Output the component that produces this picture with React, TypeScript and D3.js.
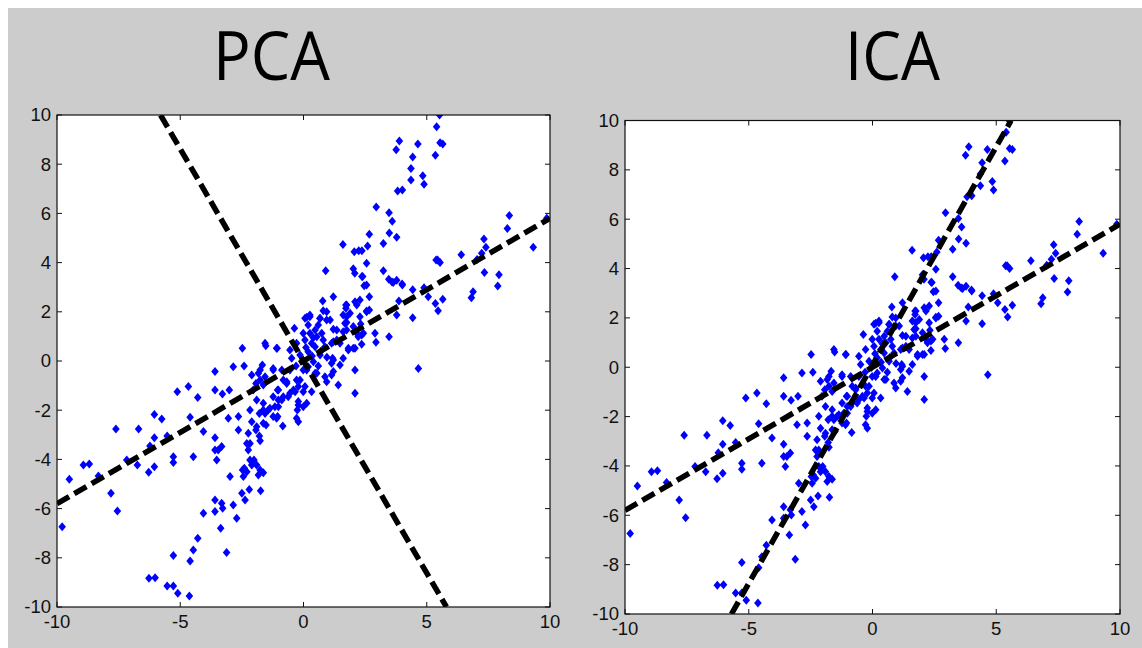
import React, { useEffect, useRef } from 'react';
import * as d3 from 'd3';

// scatter samples (same cloud in both panels)
const samples: [number, number][] = [
  // upper arm and right branch
  [5.52, 10.0], [5.40, 9.52], [3.89, 8.94], [3.76, 8.59], [4.64, 8.82], [5.54, 8.87], [5.65, 8.82],
  [5.35, 8.36], [4.43, 8.29], [4.36, 7.83], [4.36, 7.36], [4.84, 7.53], [4.89, 7.18], [3.82, 6.91],
  [4.01, 6.95], [2.95, 6.26], [3.47, 6.03], [3.60, 5.68], [3.48, 5.20], [3.78, 5.03], [2.67, 5.15],
  [3.24, 4.78], [1.60, 4.74], [2.60, 4.67], [2.06, 4.44], [2.24, 4.48], [2.37, 4.48], [2.56, 3.97],
  [0.90, 3.67], [2.02, 3.75], [2.08, 3.57], [2.37, 3.44], [3.24, 3.67], [3.46, 3.32], [3.59, 3.21],
  [3.78, 3.28], [2.56, 3.09], [4.01, 3.09], [2.67, 2.61], [1.21, 2.61], [0.78, 2.44], [2.29, 2.48],
  [1.72, 2.28], [1.72, 2.14], [3.87, 2.44], [4.43, 2.90], [4.89, 2.98], [5.06, 2.61], [5.35, 2.34],
  [5.65, 2.51], [5.46, 2.04], [5.44, 4.11], [5.54, 4.00], [5.38, 4.11], [6.40, 4.32], [7.04, 4.13],
  [7.23, 4.38], [7.32, 4.96], [7.40, 4.62], [8.35, 5.91], [8.27, 5.39], [9.87, 5.80], [9.32, 4.62],
  [7.34, 3.60], [7.93, 3.51], [7.88, 3.05], [6.88, 2.82], [6.81, 2.57], [0.80, 2.04], [1.61, 1.87],
  [1.75, 1.80], [2.67, 2.07], [2.56, 2.03], [2.29, 1.80], [2.32, 1.50], [1.75, 1.56], [1.75, 1.26],
  [3.78, 1.87], [4.43, 1.76], [1.21, 1.29], [2.36, 1.06], [2.22, 0.99], [2.94, 0.76], [3.47, 0.99],
  [1.82, 0.52], [2.02, 0.52], [2.36, 0.68], [1.21, 0.78], [1.35, 0.85], [1.18, 0.11], [0.26, 1.87],
  [0.06, 1.74], [0.67, 1.74], [0.94, 1.67], [2.40, 3.43], [3.64, 3.19], [4.00, 3.13], [2.46, 3.06],
  [2.09, 2.41], [2.16, 1.13], [2.90, 1.13], [1.61, 1.19], [2.02, 1.40], [4.66, -0.30],
  // dense centre
  [0.26, 1.80], [0.67, 1.73], [0.94, 2.00], [0.19, 1.46], [0.47, 1.26], [0.74, 1.13], [1.08, 1.67],
  [1.35, 1.26], [1.68, 1.53], [1.89, 1.94], [1.75, 2.28], [2.16, 2.28], [2.56, 2.00], [2.43, 1.13],
  [2.09, 0.52], [1.82, 0.45], [2.09, -0.37], [2.09, -1.31], [1.48, 0.72], [1.61, 0.11], [1.14, 0.72],
  [0.87, 0.58], [0.67, 0.24], [0.40, -0.03], [0.19, -0.23], [0.54, -0.50], [0.87, -0.64], [1.21, -0.43],
  [1.48, -0.16], [-0.01, -0.37], [-0.14, -0.77], [-0.41, -1.18], [-0.62, -1.45], [-0.88, -1.59],
  [-0.68, -0.84], [-1.02, -1.18], [-1.23, -1.45], [-1.16, -1.86], [-1.43, -1.99], [-1.63, -1.72],
  [-1.90, -1.59], [-1.76, -0.37], [-1.56, -0.64], [-1.23, -0.37], [-1.56, 0.72], [-1.09, 0.52],
  [-0.55, 0.45], [-0.28, 0.72], [0.06, 0.85], [0.19, 0.38], [0.47, 0.58], [-0.14, 0.24], [-0.48, 0.11],
  [-0.21, -1.79], [-0.01, -1.86], [-0.28, -2.33], [-1.23, -2.26], [-2.04, -1.18], [0.94, -0.84],
  [1.41, -0.98], [0.06, -1.04], [0.33, -1.25], [0.26, 1.13], [0.54, 0.99], [-0.01, 1.13], [0.80, 0.85],
  [0.33, 0.72], [0.60, 1.46], [-2.48, 0.52], [-1.53, 0.62], [-1.07, 0.52], [-0.37, 1.33], [0.13, 1.78],
  [1.14, -0.57], [1.14, -0.09], [1.21, 0.04], [0.47, -0.50], [0.13, -0.37], [-0.01, -1.25],
  [0.35, 0.20], [0.70, 0.40], [0.95, 0.15], [0.40, 0.95], [0.10, 0.55], [-0.30, -0.20], [0.60, -0.20],
  // lower-left arm and left branch
  [-3.59, -0.43], [-2.85, -0.23], [-2.41, -0.20], [-1.67, -0.16], [-1.23, -0.30], [-0.88, -0.37],
  [-2.10, -0.57], [-1.83, -0.50], [-1.76, -0.77], [-1.93, -0.91], [-1.63, -0.98], [-0.55, -0.37],
  [-0.28, -0.77], [-0.21, -1.04], [-0.34, -1.25], [-0.21, -1.65], [-0.25, -1.99], [0.13, -1.72],
  [-0.82, -0.77], [-0.68, -0.91], [-1.05, -1.18], [-1.02, -1.59], [-0.82, -1.45], [-0.55, -1.31],
  [-0.21, -2.47], [-0.84, -2.64], [-1.56, -2.13], [-1.63, -1.99], [-1.36, -1.92], [-1.79, -2.13],
  [-1.63, -2.53], [-1.52, -2.60], [-1.02, -1.86], [-1.05, -2.26], [-1.09, -2.33], [-2.17, -1.99],
  [-2.10, -2.47], [-2.64, -2.26], [-2.64, -2.80], [-3.05, -2.33], [-3.59, -1.18], [-3.29, -1.34],
  [-3.01, -1.18], [-4.29, -1.48], [-4.67, -1.04], [-5.12, -1.25], [-4.60, -2.29], [-4.06, -2.87],
  [-3.59, -3.12], [-3.59, -3.62], [-3.46, -3.62], [-3.32, -3.48], [-3.52, -4.02], [-2.24, -2.94],
  [-2.17, -3.35], [-2.30, -3.35], [-1.79, -3.05], [-1.76, -3.24], [-1.93, -2.80], [-1.90, -2.67],
  [-2.24, -3.62], [-2.17, -4.02], [-2.10, -4.23], [-2.01, -4.02], [-2.40, -4.36], [-2.47, -4.43],
  [-2.30, -4.50], [-1.90, -4.23], [-1.83, -4.63], [-1.76, -4.43], [-1.63, -4.54], [-2.44, -4.70],
  [-2.98, -4.70], [-2.50, -5.38], [-2.37, -5.65], [-2.20, -5.22], [-1.74, -5.27], [-2.85, -5.85],
  [-2.71, -6.39], [-3.59, -5.65], [-3.32, -5.78], [-3.28, -5.99], [-3.59, -6.12], [-3.36, -6.80],
  [-4.06, -6.19], [-4.29, -7.21], [-4.47, -7.68], [-4.60, -8.13], [-3.12, -7.78], [-5.28, -7.91],
  [-6.27, -8.83], [-6.02, -8.81], [-5.53, -9.15], [-5.28, -9.15], [-5.10, -9.44], [-4.63, -9.55],
  [-7.61, -2.76], [-6.69, -2.76], [-6.05, -2.17], [-5.75, -2.36], [-6.05, -3.12], [-5.53, -3.05],
  [-6.23, -3.46], [-6.28, -4.52], [-6.05, -4.30], [-6.74, -4.23], [-5.28, -3.89], [-5.28, -4.13],
  [-4.47, -3.89], [-7.17, -4.02], [-7.81, -5.38], [-7.55, -6.10], [-8.93, -4.23], [-8.69, -4.19],
  [-9.50, -4.81], [-9.79, -6.74], [-8.32, -4.67],
];

// dashed direction lines: [x1, y1, x2, y2]
const pcaAxes: number[][] = [[-10, -5.8, 10, 5.8], [-5.8, 10, 5.8, -10]];
const icaAxes: number[][] = [[-10, -5.8, 10, 5.8], [-5.7, -10, 5.6, 10]];

const xTicks = [-10, -5, 0, 5, 10];
const yTicks = [-10, -8, -6, -4, -2, 0, 2, 4, 6, 8, 10];

const panels = [
  { title: 'PCA', axes: pcaAxes, box: { x0: 57, x1: 550, y0: 115, y1: 607 }, titleX: 213, titleW: 117 },
  { title: 'ICA', axes: icaAxes, box: { x0: 625, x1: 1120, y0: 120.5, y1: 614 }, titleX: 845, titleW: 95 },
];

const tickFont = "'Liberation Sans Narrow', 'Liberation Sans', Arial, sans-serif";

export default function App() {
  const ref = useRef<SVGSVGElement>(null);

  useEffect(() => {
    const svg = d3.select(ref.current);
    svg.selectAll('*').remove();

    svg.append('rect').attr('width', 1142).attr('height', 648).attr('fill', '#ffffff');
    svg.append('rect').attr('x', 8).attr('y', 8).attr('width', 1134).attr('height', 640).attr('fill', '#cccccc');

    panels.forEach((p, i) => {
      const b = p.box;
      const x = d3.scaleLinear().domain([-10, 10]).range([b.x0, b.x1]);
      const y = d3.scaleLinear().domain([-10, 10]).range([b.y1, b.y0]);
      const g = svg.append('g');

      g.append('text')
        .attr('x', p.titleX)
        .attr('y', 80)
        .attr('textLength', p.titleW)
        .attr('lengthAdjust', 'spacingAndGlyphs')
        .style('font-family', "'Open Sans', 'Noto Sans', sans-serif")
        .style('font-size', '68px')
        .attr('fill', '#000')
        .text(p.title);

      g.append('rect')
        .attr('x', b.x0).attr('y', b.y0)
        .attr('width', b.x1 - b.x0).attr('height', b.y1 - b.y0)
        .attr('fill', '#ffffff');

      const clipId = 'clip' + i;
      g.append('clipPath').attr('id', clipId)
        .append('rect')
        .attr('x', b.x0).attr('y', b.y0)
        .attr('width', b.x1 - b.x0).attr('height', b.y1 - b.y0);

      const plot = g.append('g').attr('clip-path', `url(#${clipId})`);

      // blue markers
      plot.selectAll('path.pt')
        .data(samples)
        .enter()
        .append('path')
        .attr('class', 'pt')
        .attr('d', 'M0,-4.5L3.8,0L0,4.5L-3.8,0Z')
        .attr('transform', d => `translate(${x(d[0])},${y(d[1])})`)
        .attr('fill', '#0000ff');

      const line = d3.line<[number, number]>().x(d => x(d[0])).y(d => y(d[1]));
      plot.selectAll('path.axis')
        .data(p.axes)
        .enter()
        .append('path')
        .attr('class', 'axis')
        .attr('d', d => line([[d[0], d[1]], [d[2], d[3]]]))
        .attr('fill', 'none')
        .attr('stroke', '#000')
        .attr('stroke-width', 5.5)
        .attr('stroke-dasharray', '14,6');

      // frame with inward ticks on all sides
      g.append('rect')
        .attr('x', b.x0).attr('y', b.y0)
        .attr('width', b.x1 - b.x0).attr('height', b.y1 - b.y0)
        .attr('fill', 'none').attr('stroke', '#111').attr('stroke-width', 1.2);

      const tl = 5;
      xTicks.forEach(t => {
        g.append('line').attr('x1', x(t)).attr('x2', x(t)).attr('y1', b.y1).attr('y2', b.y1 - tl).attr('stroke', '#111');
        g.append('line').attr('x1', x(t)).attr('x2', x(t)).attr('y1', b.y0).attr('y2', b.y0 + tl).attr('stroke', '#111');
      });
      yTicks.forEach(t => {
        g.append('line').attr('y1', y(t)).attr('y2', y(t)).attr('x1', b.x0).attr('x2', b.x0 + tl).attr('stroke', '#111');
        g.append('line').attr('y1', y(t)).attr('y2', y(t)).attr('x1', b.x1).attr('x2', b.x1 - tl).attr('stroke', '#111');
      });

      g.selectAll('text.xt')
        .data(xTicks)
        .enter()
        .append('text')
        .attr('class', 'xt')
        .attr('x', d => x(d))
        .attr('y', b.y1 + 21)
        .attr('text-anchor', 'middle')
        .style('font-family', tickFont)
        .style('font-size', '18.5px')
        .attr('fill', '#111')
        .text(d => d);

      g.selectAll('text.yt')
        .data(yTicks)
        .enter()
        .append('text')
        .attr('class', 'yt')
        .attr('x', b.x0 - 6)
        .attr('y', d => y(d))
        .attr('dy', '0.35em')
        .attr('text-anchor', 'end')
        .style('font-family', tickFont)
        .style('font-size', '18.5px')
        .attr('fill', '#111')
        .text(d => d);
    });
  }, []);

  return (
    <svg
      ref={ref}
      width={1142}
      height={648}
      style={{ position: 'fixed', left: 0, top: 0, display: 'block' }}
    />
  );
}
